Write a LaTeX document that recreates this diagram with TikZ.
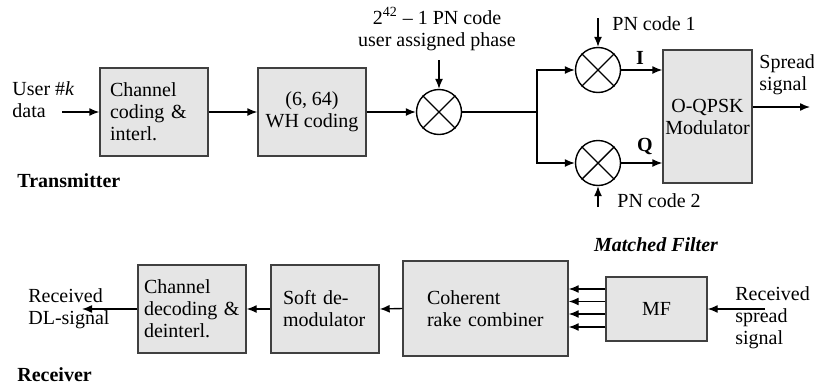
\documentclass[tikz,border=0pt]{standalone}
\usepackage{fontspec}
\setmainfont{Liberation Serif}
\usetikzlibrary{arrows.meta}
\begin{document}
\begin{tikzpicture}[x=0.5pt,y=-0.5pt,
 txt/.style={font=\fontsize{10}{11}\selectfont, align=left, inner sep=0pt},
 blk/.style={draw=black!75, fill=black!10, line width=0.7pt, inner sep=0pt, align=left, font=\fontsize{10}{11}\selectfont},
 lblk/.style 2 args={blk, inner xsep=#1, text width=#2},
 mix/.style={draw, circle, minimum size=22.5pt, inner sep=0pt, line width=0.7pt},
 arr/.style={-{Latex[length=5pt,width=4pt]}, line width=0.7pt},
 ln/.style={line width=0.7pt},
]
\useasboundingbox (0,0) rectangle (814,386);

% ---------------- Transmitter ----------------
\node[txt, anchor=west] (user) at (12,100) {User \#\textit{k}\\data};
\coordinate (uin) at (62,112);
\node[lblk={5pt}{44pt}, minimum width=54pt, minimum height=44pt] (b1) at (154,112) {Channel\\coding \&\\interl.};
\node[blk, minimum width=54pt, minimum height=44pt, align=center] (b2) at (312,112) {(6, 64)\\WH coding};
\node[mix] (m0) at (439,112) {};
\draw[ln] (m0.north west) -- (m0.south east) (m0.north east) -- (m0.south west);
\node[txt, align=center] (phase) at (437,29) {2\textsuperscript{42} -- 1 PN code\\user assigned phase};
\coordinate (ph) at (439,60);
\coordinate (split) at (537,112);
\node[mix] (mI) at (598,70) {};
\draw[ln] (mI.north west) -- (mI.south east) (mI.north east) -- (mI.south west);
\node[mix] (mQ) at (598,163) {};
\draw[ln] (mQ.north west) -- (mQ.south east) (mQ.north east) -- (mQ.south west);
\coordinate (pn1) at (598,18);
\coordinate (pn2) at (598,207);
\node[txt, anchor=west] (pn1t) at (612,24) {PN code 1};
\node[txt, anchor=west] (pn2t) at (617,201) {PN code 2};
\node[blk, minimum width=44.5pt, minimum height=66.5pt, align=center] (mod) at (707.5,116.5) {O-QPSK\\Modulator};
\node[txt, font=\fontsize{10}{11}\selectfont\bfseries] (Il) at (640,58) {I};
\node[txt, font=\fontsize{10}{11}\selectfont\bfseries] (Ql) at (645,146) {Q};
\coordinate (out) at (810,107);
\node[txt, anchor=west] (spr) at (759,75) {Spread\\signal};
\node[txt, anchor=west, font=\fontsize{10}{11}\selectfont\bfseries] (tx) at (17,181) {Transmitter};

\draw[arr] (uin) -- (b1.west);
\draw[arr] (b1.east) -- (b2.west);
\draw[arr] (b2.east) -- (m0.west);
\draw[arr] (ph) -- (m0.north);
\draw[ln] (m0.east) -- (split);
\draw[arr] (split) |- (mI.west);
\draw[arr] (split) |- (mQ.west);
\draw[arr] (pn1) -- (mI.north);
\draw[arr] (pn2) -- (mQ.south);
\draw[arr] (mI.east) -- (mI.east -| mod.west);
\draw[arr] (mQ.east) -- (mQ.east -| mod.west);
\draw[arr] (out -| mod.east) -- (out);

% ---------------- Receiver ----------------
\node[lblk={3pt}{48pt}, minimum width=54pt, minimum height=44pt] (cd) at (192,309) {Channel\\decoding~\&\\deinterl.};
\node[lblk={6pt}{42pt}, minimum width=54pt, minimum height=44pt] (sd) at (325,309) {Soft de-\\modulator};
\node[lblk={12pt}{58.5pt}, minimum width=82.5pt, minimum height=47.5pt] (rc) at (485.5,308.5) {Coherent\\rake combiner};
\node[blk, minimum width=50.5pt, minimum height=32pt, align=center] (mf) at (656.5,309) {MF};
\node[txt, anchor=center, font=\fontsize{10}{11}\selectfont\bfseries\itshape] (mft) at (656,245) {Matched Filter};
\coordinate (rin) at (765,309);
\node[txt, anchor=west] (rss) at (735,318) {Received\\spread\\signal};
\coordinate (rout) at (82,309);
\node[txt, anchor=west] (rdl) at (28,309) {Received\\DL-signal};
\node[txt, anchor=west, font=\fontsize{10}{11}\selectfont\bfseries] (rx) at (17,375) {Receiver};

\draw[arr] (rin) -- (mf.east);
\foreach \yy in {289,301.5,314,327}
  \draw[arr] (mf.west |- 0,\yy) -- (rc.east |- 0,\yy);
\draw[arr] (rc.west) -- (sd.east);
\draw[arr] (sd.west) -- (cd.east);
\draw[arr] (cd.west) -- (rout);
\end{tikzpicture}
\end{document}
